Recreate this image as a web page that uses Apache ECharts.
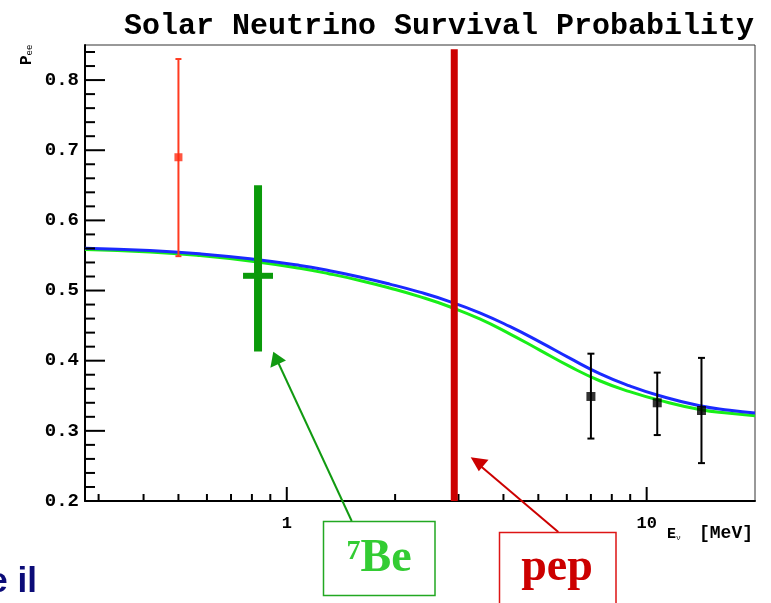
<!DOCTYPE html>
<html><head><meta charset="utf-8">
<script src="https://cdn.jsdelivr.net/npm/echarts@6/dist/echarts.min.js"></script>
<style>html,body{margin:0;padding:0;background:#fff}#c{width:771px;height:603px}</style>
</head><body><div id="c"></div>
<script>
// ---- data ----
const curveE  = [0.275,0.4164,0.5734,0.7895,1.087,1.316,1.595,1.932,2.341,2.836,3.437,4.163,5.045,6.112,7.405,8.970,10.87,14.04,17.01,20];
const blueP   = [0.5604,0.5571,0.5524,0.5453,0.5357,0.5282,0.5194,0.5092,0.4977,0.4843,0.4683,0.4488,0.4268,0.4036,0.3816,0.3641,0.35,0.3357,0.3293,0.3253];
const greenP  = [0.5586,0.5551,0.5499,0.5421,0.5317,0.5237,0.5144,0.5036,0.4913,0.4769,0.4595,0.4383,0.4151,0.3918,0.3714,0.3559,0.3435,0.3305,0.325,0.3215];
const ppE = [0.5],  ppP = [0.69],  ppLo = [0.549], ppHi = [0.83];
const b8E = [7.0, 10.7, 14.2], b8P = [0.349, 0.34, 0.329], b8Lo = [0.289, 0.294, 0.254], b8Hi = [0.41, 0.383, 0.404];
const be7E = [0.832], be7P = [0.521], be7Lo = [0.413], be7Hi = [0.65];
const pepE = [2.92], pepLo = [0.2], pepHi = [0.844];
const xMin = 0.275, xMax = 20, yMin = 0.2, yMax = 0.85;
const xMajorTicks = [1, 10];
const xMinorTicks = [0.3,0.4,0.5,0.6,0.7,0.8,0.9,2,3,4,5,6,7,8,9];
const xTickLabels = ['1', '10'];
const yMajorTicks = [0.2,0.3,0.4,0.5,0.6,0.7,0.8];
const yMinorTicks = [0.22,0.24,0.26,0.28,0.32,0.34,0.36,0.38,0.42,0.44,0.46,0.48,0.52,0.54,0.56,0.58,0.62,0.64,0.66,0.68,0.72,0.74,0.76,0.78,0.82,0.84];
const yTickLabels = ['0.2','0.3','0.4','0.5','0.6','0.7','0.8'];

const chart = echarts.init(document.getElementById('c'), null, {renderer: 'canvas'});
const MONO = '"Liberation Mono", "DejaVu Sans Mono", monospace';
const SERIF = '"Liberation Serif", "DejaVu Serif", serif';

function tickSeries(vals, isX, len, name) {
  return {
    type: 'custom', name: name, silent: true, z: 5,
    data: vals.map(v => isX ? [v, yMin] : [xMin, v]),
    renderItem: function (params, api) {
      const cs = params.coordSys;
      const p = api.coord([api.value(0), api.value(1)]);
      let shape;
      if (isX) { const y0 = cs.y + cs.height; shape = {x1: p[0], y1: y0, x2: p[0], y2: y0 - len}; }
      else { const x0 = cs.x; shape = {x1: x0, y1: p[1], x2: x0 + len, y2: p[1]}; }
      return {type: 'line', shape: shape, style: {stroke: '#000', lineWidth: 2}};
    }
  };
}

function errSeries(E, P, Lo, Hi, color, lw, cap, name) {
  return {
    type: 'custom', name: name, z: 6,
    data: E.map((e, i) => [e, P[i], Lo[i], Hi[i]]),
    renderItem: function (params, api) {
      const top = api.coord([api.value(0), api.value(3)]);
      const bot = api.coord([api.value(0), api.value(2)]);
      const st = {stroke: color, lineWidth: lw};
      return {type: 'group', children: [
        {type: 'line', shape: {x1: top[0], y1: top[1], x2: bot[0], y2: bot[1]}, style: st},
        {type: 'line', shape: {x1: top[0] - cap, y1: top[1], x2: top[0] + cap, y2: top[1]}, style: st},
        {type: 'line', shape: {x1: bot[0] - cap, y1: bot[1], x2: bot[0] + cap, y2: bot[1]}, style: st}
      ]};
    }
  };
}

const option = {
  animation: false,
  backgroundColor: '#fff',
  title: {
    text: 'Solar Neutrino Survival Probability',
    right: 12, top: 6,
    textStyle: {fontFamily: MONO, fontSize: 30, fontWeight: 'bold', color: '#000'}
  },
  grid: {left: 85, right: 16, top: 45, bottom: 102, show: true, borderColor: '#333', borderWidth: 1, backgroundColor: 'transparent'},
  xAxis: {
    type: 'log', logBase: 10, min: xMin, max: xMax,
    axisLine: {show: true, lineStyle: {color: '#000', width: 2}},
    axisTick: {show: false}, minorTick: {show: false},
    splitLine: {show: false}, minorSplitLine: {show: false},
    axisLabel: {
      margin: 14, fontFamily: MONO, fontSize: 17, fontWeight: 'bold', color: '#000',
      showMinLabel: false, showMaxLabel: false,
      formatter: function (v) {
        for (let i = 0; i < xMajorTicks.length; i++) if (Math.abs(v - xMajorTicks[i]) < 1e-6 * xMajorTicks[i]) return xTickLabels[i];
        return '';
      }
    }
  },
  yAxis: {
    type: 'value', min: yMin, max: yMax, interval: 0.1,
    axisLine: {show: true, lineStyle: {color: '#000', width: 2}},
    axisTick: {show: false}, minorTick: {show: false},
    splitLine: {show: false},
    axisLabel: {
      margin: 6, fontFamily: MONO, fontSize: 19, fontWeight: 'bold', color: '#000',
      formatter: function (v) {
        for (let i = 0; i < yMajorTicks.length; i++) if (Math.abs(v - yMajorTicks[i]) < 1e-6) return yTickLabels[i];
        return '';
      }
    }
  },
  series: [
    tickSeries(xMajorTicks, true, 14, 'xMajor'),
    tickSeries(xMinorTicks, true, 7, 'xMinor'),
    tickSeries(yMajorTicks, false, 20, 'yMajor'),
    tickSeries(yMinorTicks, false, 10, 'yMinor'),
    {
      type: 'line', name: 'green', z: 2, smooth: 0.5, symbol: 'none',
      data: curveE.map((e, i) => [e, greenP[i]]),
      lineStyle: {color: '#18ee18', width: 3}
    },
    {
      type: 'line', name: 'blue', z: 3, smooth: 0.5, symbol: 'none',
      data: curveE.map((e, i) => [e, blueP[i]]),
      lineStyle: {color: '#1a2aff', width: 3}
    },
    errSeries(ppE, ppP, ppLo, ppHi, '#ff3a20', 2, 3, 'ppErr'),
    {
      type: 'scatter', name: 'pp', z: 7, symbol: 'rect', symbolSize: 8,
      data: ppE.map((e, i) => [e, ppP[i]]),
      itemStyle: {color: '#ff2a10'}
    },
    errSeries(b8E, b8P, b8Lo, b8Hi, '#000', 2, 3.5, 'b8Err'),
    {
      type: 'scatter', name: 'b8', z: 7, symbol: 'rect', symbolSize: 9,
      data: b8E.map((e, i) => [e, b8P[i]]),
      itemStyle: {color: '#000'}
    },
    {
      type: 'custom', name: 'be7', z: 6,
      data: be7E.map((e, i) => [e, be7P[i], be7Lo[i], be7Hi[i]]),
      renderItem: function (params, api) {
        const top = api.coord([api.value(0), api.value(3)]);
        const bot = api.coord([api.value(0), api.value(2)]);
        const mid = api.coord([api.value(0), api.value(1)]);
        const col = '#0a9a0a';
        return {type: 'group', children: [
          {type: 'rect', shape: {x: top[0] - 4, y: top[1], width: 8, height: bot[1] - top[1]}, style: {fill: col}},
          {type: 'rect', shape: {x: mid[0] - 15, y: mid[1] - 3, width: 30, height: 6}, style: {fill: col}}
        ]};
      }
    },
    {
      type: 'custom', name: 'pep', z: 6,
      data: pepE.map((e, i) => [e, pepLo[i], pepHi[i]]),
      renderItem: function (params, api) {
        const top = api.coord([api.value(0), api.value(2)]);
        const bot = api.coord([api.value(0), api.value(1)]);
        return {type: 'rect', shape: {x: top[0] - 3.5, y: top[1], width: 7, height: bot[1] - top[1]}, style: {fill: '#cc0000'}};
      }
    }
  ],
  graphic: [
    {type: 'text', x: 35, y: 65, rotation: Math.PI / 2, z: 10,
      style: {text: '{p|P}{s|ee}', align: 'left', verticalAlign: 'bottom',
        rich: {p: {fontFamily: MONO, fontSize: 16, fontWeight: 'bold', fill: '#000'},
               s: {fontFamily: MONO, fontSize: 9, fill: '#000', padding: [6, 0, 0, 0]}}}},
    {type: 'text', x: 667, y: 542, z: 10,
      style: {text: '{b|E}{s|ν}', verticalAlign: 'bottom',
        rich: {b: {fontFamily: MONO, fontSize: 15, fontWeight: 'bold', fill: '#000'},
               s: {fontFamily: MONO, fontSize: 8, fill: '#000', padding: [6, 0, 0, 0]}}}},
    {type: 'text', x: 753, y: 542, z: 10,
      style: {text: '[MeV]', align: 'right', verticalAlign: 'bottom', fontFamily: MONO, fontSize: 18, fontWeight: 'bold', fill: '#000'}},
    // 7Be annotation
    {type: 'line', z: 10, shape: {x1: 351.7, y1: 521, x2: 277, y2: 360}, style: {stroke: '#119a11', lineWidth: 2}},
    {type: 'polygon', z: 10, shape: {points: [[273.3, 351.7], [270.4, 367.8], [286, 360.6]]}, style: {fill: '#119a11'}},
    {type: 'rect', z: 10, shape: {x: 323.5, y: 521.5, width: 111.5, height: 74}, style: {fill: '#fff', stroke: '#22a822', lineWidth: 1.5}},
    {type: 'text', z: 11, x: 379, y: 582,
      style: {text: '{sup|7}{b|Be}', align: 'center', verticalAlign: 'bottom',
        rich: {sup: {fontFamily: SERIF, fontSize: 28, fontWeight: 'bold', fill: '#33cc33', padding: [0, 0, 14, 0]},
               b: {fontFamily: SERIF, fontSize: 46, fontWeight: 'bold', fill: '#33cc33'}}}},
    // pep annotation
    {type: 'line', z: 10, shape: {x1: 558.3, y1: 532, x2: 477, y2: 463}, style: {stroke: '#cc0000', lineWidth: 2}},
    {type: 'polygon', z: 10, shape: {points: [[470.7, 457.3], [478.8, 471.2], [488.5, 459.7]]}, style: {fill: '#cc0000'}},
    {type: 'rect', z: 10, shape: {x: 499.5, y: 532.5, width: 116.5, height: 90}, style: {fill: '#fff', stroke: '#dd1515', lineWidth: 1.5}},
    {type: 'text', z: 11, x: 557, y: 591,
      style: {text: 'pep', align: 'center', verticalAlign: 'bottom', fontFamily: SERIF, fontSize: 46, fontWeight: 'bold', fill: '#cc0000'}},
    // cut-off slide text
    {type: 'text', z: 10, x: 37, y: 600,
      style: {text: 'e il', align: 'right', verticalAlign: 'bottom', fontFamily: '"Liberation Sans", Arial, sans-serif', fontSize: 35, fontWeight: 'bold', fill: '#0c0c78'}}
  ]
};
chart.setOption(option);
</script>
</body></html>
